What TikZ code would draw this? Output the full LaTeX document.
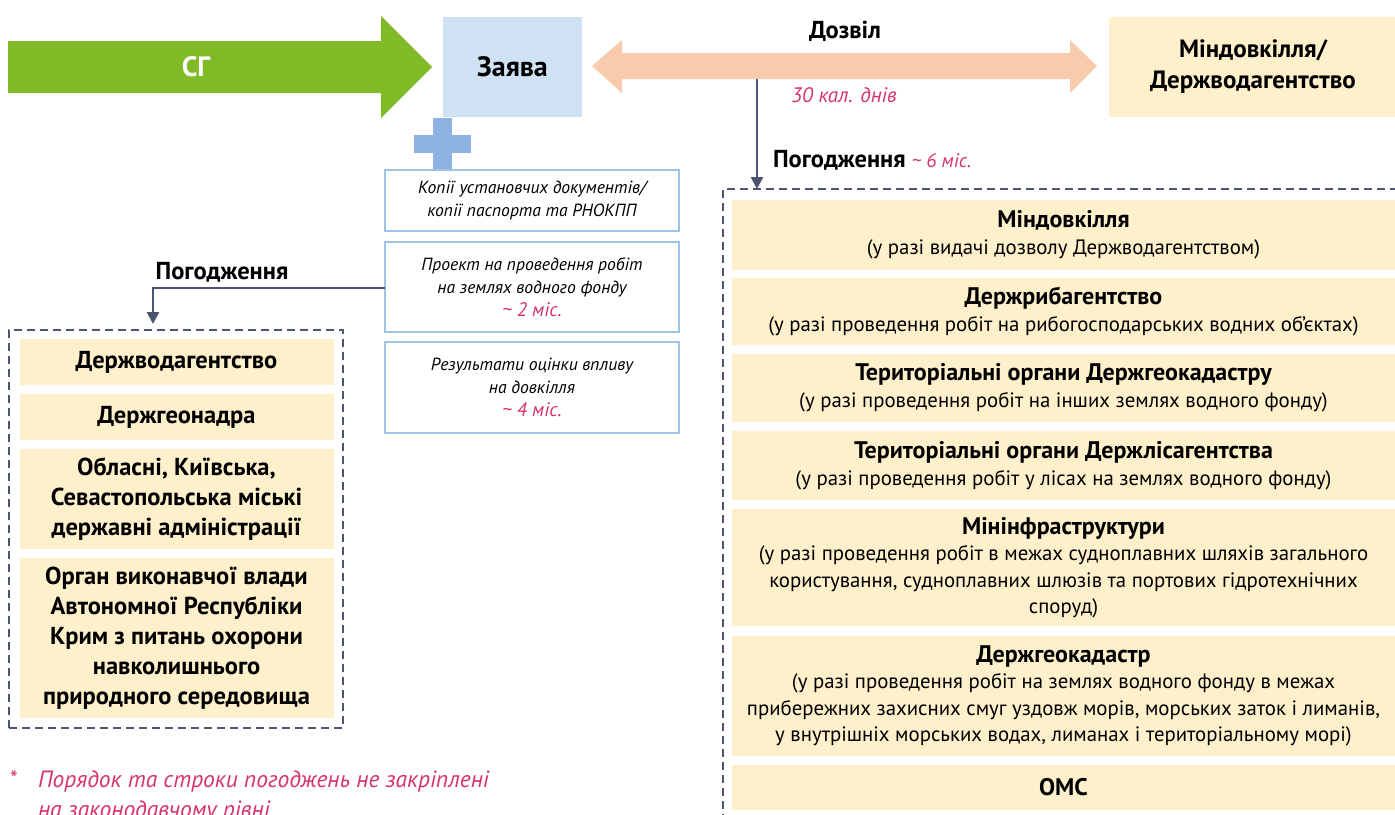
\documentclass[tikz,border=0pt]{standalone}
\usepackage{fontspec}
\setmainfont{PT Sans}
\usetikzlibrary{arrows.meta}
\definecolor{sgGreen}{HTML}{80BA27}
\definecolor{zBlue}{HTML}{CFE2F3}
\definecolor{peach}{HTML}{F8CBAD}
\definecolor{ybg}{HTML}{FFF0CC}
\definecolor{slate}{HTML}{4D5670}
\definecolor{docBlue}{HTML}{9DC3E6}
\definecolor{plusBlue}{HTML}{8DB3E2}
\definecolor{pinkT}{HTML}{D6336C}
\newcommand{\ttl}[1]{{\fontsize{24}{27}\selectfont\bfseries #1}}
\newcommand{\pk}[1]{{\color{pinkT}#1}}
\begin{document}
\begin{tikzpicture}[x=1pt,y=-1pt,
  every node/.style={inner sep=0pt, outer sep=0pt},
  ybox/.style={fill=ybg, align=center, text=black},
  lbox/.style={ybox, minimum width=314pt, font=\fontsize{24.5}{30}\selectfont\bfseries},
  rbox/.style={ybox, minimum width=663pt, font=\fontsize{20.8}{26.5}\selectfont},
  docbox/.style={draw=docBlue, line width=2pt, fill=white, minimum width=294pt, align=center, font=\fontsize{17.6}{23}\selectfont\itshape},
  dashframe/.style={draw=slate, line width=2.5pt, dash pattern=on 8pt off 5pt},
  conn/.style={draw=slate, line width=2.5pt, -{Triangle[length=12pt,width=12pt]}},
  lbl/.style={font=\fontsize{24.5}{28}\selectfont\bfseries},
  pinktxt/.style={text=pinkT, font=\fontsize{21}{26}\selectfont\itshape},
]
\useasboundingbox (0,0) rectangle (1395,814);
\clip (0,0) rectangle (1395,814);

% green arrow
\fill[sgGreen] (8,41) -- (381,41) -- (381,16) -- (432,67) -- (381,118) -- (381,93) -- (8,93) -- cycle;
\node[text=white, font=\fontsize{28}{32}\selectfont\bfseries] (sg) at (196,67) {СГ};

% application
\node[fill=zBlue, minimum width=139pt, minimum height=100pt, font=\fontsize{28}{32}\selectfont\bfseries] (zayava) at (512.5,67) {Заява};

% double arrow
\fill[peach] (592,66) -- (622,40) -- (622,53) -- (1070,53) -- (1070,40) -- (1097,66) -- (1070,93) -- (1070,79) -- (622,79) -- (622,93) -- cycle;
\node[lbl] (dozvil) at (845,31) {Дозвіл};
\node[pinktxt] (days) at (844,95) {30 кал. днів};

\node[ybox, minimum width=288pt, minimum height=100pt, font=\fontsize{25}{31}\selectfont\bfseries] (mindov) at (1253,67) {Міндовкілля/\\Держводагентство};

% right approvals
\coordinate (vtop) at (757,79);
\coordinate (vbot) at (757,189);
\draw[conn] (vtop) -- (vbot);
\node[lbl, anchor=west] (pog2) at (773,160) {Погодження \pk{\fontsize{19.5}{24}\selectfont\mdseries\itshape\textasciitilde{} 6 міс.}};
\draw[dashframe] (723,900) -- (723,189) -- (1400,189);

\node[rbox, minimum height=70pt] (r1) at (1063.5,235) {\ttl{Міндовкілля}\\(у разі видачі дозволу Держводагентством)};
\node[rbox, minimum height=67pt] (r2) at (1063.5,311.5) {\ttl{Держрибагентство}\\(у разі проведення робіт на рибогосподарських водних об’єктах)};
\node[rbox, minimum height=68pt] (r3) at (1063.5,388) {\ttl{Територіальні органи Держгеокадастру}\\(у разі проведення робіт на інших землях водного фонду)};
\node[rbox, minimum height=69pt] (r4) at (1063.5,465.5) {\ttl{Територіальні органи Держлісагентства}\\(у разі проведення робіт у лісах на землях водного фонду)};
\node[rbox, minimum height=117pt] (r5) at (1063.5,567.5) {\ttl{Мінінфраструктури}\\(у разі проведення робіт в межах судноплавних шляхів загального\\користування, судноплавних шлюзів та портових гідротехнічних\\споруд)};
\node[rbox, minimum height=120pt] (r6) at (1063.5,696) {\ttl{Держгеокадастр}\\(у разі проведення робіт на землях водного фонду в межах\\прибережних захисних смуг уздовж морів, морських заток і лиманів,\\у внутрішніх морських водах, лиманах і територіальному морі)};
\node[rbox, minimum height=45pt] (r7) at (1063.5,787.5) {\ttl{ОМС}};

% documents
\fill[plusBlue] (433,118) rectangle (452,170);
\fill[plusBlue] (414,135) rectangle (471,153);
\node[docbox, minimum height=61pt] (d1) at (532,200.5) {Копії установчих документів/\\копії паспорта та РНОКПП};
\node[docbox, minimum height=90pt] (d2) at (532,287) {Проект на проведення робіт\\на землях водного фонду\\\pk{\fontsize{19.5}{23}\selectfont\textasciitilde{} 2 міс.}};
\node[docbox, minimum height=91pt] (d3) at (532,387.5) {Результати оцінки впливу\\на довкілля\\\pk{\fontsize{19.5}{23}\selectfont\textasciitilde{} 4 міс.}};

% left approvals
\coordinate (lturn) at (153,288);
\coordinate (lend) at (153,324);
\draw[conn] (d2.west |- lturn) -- (lturn) -- (lend);
\node[lbl] (pog1) at (222,272) {Погодження};
\node[dashframe, minimum width=334pt, minimum height=398pt] (lframe) at (176,529) {};

\node[lbox, minimum height=46pt] (l1) at (176.5,362) {Держводагентство};
\node[lbox, minimum height=46pt] (l2) at (176.5,417) {Держгеонадра};
\node[lbox, minimum height=100pt] (l3) at (176.5,499) {Обласні, Київська,\\Севастопольська міські\\державні адміністрації};
\node[lbox, minimum height=160pt] (l4) at (176.5,638) {Орган виконавчої влади\\Автономної Республіки\\Крим з питань охорони\\навколишнього\\природного середовища};

% footnote
\node[text=pinkT, font=\fontsize{22}{30}\selectfont, anchor=north west] (star) at (10,771) {*};
\node[text=pinkT, font=\fontsize{23.5}{30}\selectfont\itshape, anchor=north west, align=left] (foot) at (38,771) {Порядок та строки погоджень не закріплені\\на законодавчому рівні};
\end{tikzpicture}
\end{document}
